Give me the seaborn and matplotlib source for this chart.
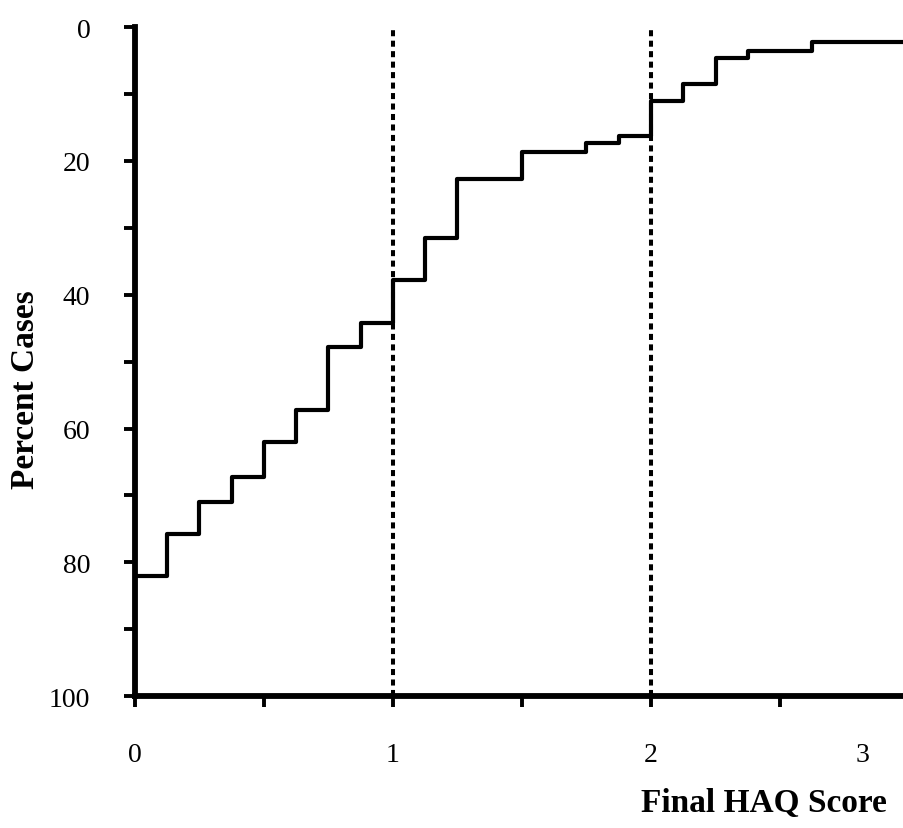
import matplotlib
matplotlib.use("Agg")
import matplotlib.pyplot as plt
import seaborn as sns
import pandas as pd

# Cumulative distribution of final HAQ scores (percent of cases at or above each score)
haq_score = [0, 0.125, 0.25, 0.375, 0.5, 0.625, 0.75, 0.875, 1.0, 1.125,
             1.25, 1.5, 1.75, 1.875, 2.0, 2.125, 2.25, 2.375, 2.625, 3.0]
percent_cases = [82.0, 75.8, 70.9, 67.3, 62.0, 57.2, 47.8, 44.2, 37.8, 31.5,
                 22.7, 18.7, 17.3, 16.2, 11.0, 8.5, 4.6, 3.6, 2.2, 2.2]
cutoffs = [1, 2]
y_major = [0, 20, 40, 60, 80, 100]
y_minor = [10, 30, 50, 70, 90]
x_major = [0, 1, 2]
x_minor = [0.5, 1.5, 2.5]

sns.set_style("ticks")
plt.rcParams["font.family"] = ["Liberation Serif", "DejaVu Serif"]
plt.rcParams["text.color"] = "black"
plt.rcParams["axes.labelcolor"] = "black"

df = pd.DataFrame({"score": haq_score, "pct": percent_cases})

fig = plt.figure(figsize=(9.04, 8.29), dpi=100)
ax = fig.add_axes([0.149, 0.159, 0.851, 0.807])

sns.lineplot(data=df, x="score", y="pct", drawstyle="steps-post",
             color="black", linewidth=3.0, ax=ax, clip_on=False, zorder=3)

for c in cutoffs:
    ax.axvline(c, color="black", linewidth=2.9, linestyle=(0, (1.5, 1.1)), zorder=2)

ax.set_xlim(0, 2.98)
ax.set_ylim(100, 0)

ax.set_yticks(y_major)
ax.set_yticks(y_minor, minor=True)
ax.set_xticks(x_major)
ax.set_xticks(x_minor, minor=True)
ax.set_xticklabels([str(v) for v in x_major])
ax.set_yticklabels([str(v) for v in y_major])

sns.despine(ax=ax)
for side in ("left", "bottom"):
    ax.spines[side].set_linewidth(4.2)
    ax.spines[side].set_color("black")

tick_len = 8
x_pad = 25
ax.tick_params(axis="both", which="both", direction="out", length=tick_len, width=2.8,
               color="black", labelsize=20, labelcolor="black")
ax.tick_params(axis="y", which="major", pad=24)
ax.tick_params(axis="x", which="major", pad=x_pad)

# score 3 label, set just inside the right edge of the axis
ax.annotate("3", xy=(2.82, 0), xycoords=("data", "axes fraction"),
            xytext=(0, -(tick_len + x_pad)), textcoords="offset points",
            ha="center", va="top", fontsize=20, color="black",
            annotation_clip=False)

ax.set_xlabel("Final HAQ Score", fontsize=24, fontweight="bold", loc="right")
ax.xaxis.set_label_coords(0.978, -0.135)
ax.set_ylabel("Percent Cases", fontsize=24, fontweight="bold")
ax.yaxis.set_label_coords(-0.122, 0.460)

fig.savefig("out.png", dpi=100)
